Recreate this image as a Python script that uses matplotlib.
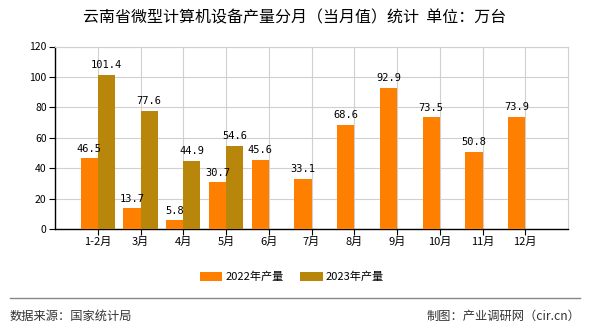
import matplotlib
matplotlib.use("Agg")
import matplotlib.pyplot as plt
import numpy as np

plt.rcParams['font.family'] = ['Noto Sans CJK SC', 'DejaVu Sans']

months = ["1-2月", "3月", "4月", "5月", "6月", "7月", "8月", "9月", "10月", "11月", "12月"]
prod_2022 = [46.5, 13.7, 5.8, 30.7, 45.6, 33.1, 68.6, 92.9, 73.5, 50.8, 73.9]
prod_2023 = [101.4, 77.6, 44.9, 54.6]
yticks = [0, 20, 40, 60, 80, 100, 120]

c22 = "#FF8000"
c23 = "#B8860B"

fig = plt.figure(figsize=(5.9, 3.3), dpi=100)
ax = fig.add_axes([55/590, 1-229/330, (568-55)/590, (229-46.5)/330])

x = np.arange(len(months))
w = 0.4
b1 = ax.bar(x - w/2, prod_2022, width=w, color=c22, label="2022年产量", zorder=3)
x23 = x[:len(prod_2023)]
b2 = ax.bar(x23 + w/2, prod_2023, width=w, color=c23, label="2023年产量", zorder=3)

for xi, v in zip(x, prod_2022):
    ax.text(xi - w/2, v + 3, f"{v}", ha="center", va="bottom", fontsize=7.5,
            family="DejaVu Sans Mono", zorder=4)
for xi, v in zip(x23, prod_2023):
    ax.text(xi + w/2, v + 3, f"{v}", ha="center", va="bottom", fontsize=7.5,
            family="DejaVu Sans Mono", zorder=4)

ax.set_xlim(-1, 11)
ax.set_ylim(0, 120)
ax.set_yticks(yticks)
ax.set_xticks(x)
ax.set_xticklabels(months, fontsize=8)
ax.tick_params(axis='y', labelsize=7.5, length=4, direction='out', pad=2)
ax.tick_params(axis='x', length=4, direction='out', pad=2)
ax.grid(True, color="#D0D0D0", linewidth=0.8, zorder=0)
for s in ["top", "right"]:
    ax.spines[s].set_color("#D0D0D0")
for s in ["left", "bottom"]:
    ax.spines[s].set_color("black")
    ax.spines[s].set_linewidth(1.0)

fig.text(0.5, 1-18/330, "云南省微型计算机设备产量分月（当月值）统计  单位：万台",
         ha="center", va="center", fontsize=11.5)

fig.legend(handles=[b1, b2], loc="center", bbox_to_anchor=(292/590, 1-277/330),
           ncol=2, frameon=False, fontsize=8, handlelength=2.0, handleheight=0.8,
           columnspacing=1.5, handletextpad=0.3)

fig.add_artist(plt.Line2D([10/590, 580/590], [1-298/330, 1-298/330],
                          color="#888888", linewidth=1.0, transform=fig.transFigure))
fig.text(10/590, 1-316/330, "数据来源：国家统计局", ha="left", va="center",
         fontsize=8.8, color="#333333")
fig.text(580/590, 1-316/330, "制图：产业调研网（cir.cn）", ha="right", va="center",
         fontsize=8.8, color="#333333")

fig.savefig("out.png", dpi=100)
